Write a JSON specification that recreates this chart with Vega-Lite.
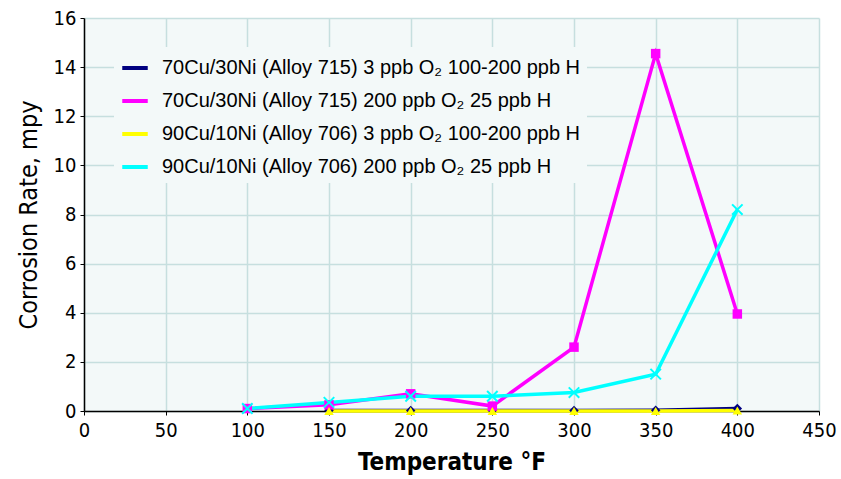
{
  "$schema": "https://vega.github.io/schema/vega-lite/v6.json",
  "width": 735,
  "height": 393,
  "autosize": {"type": "none"},
  "padding": {"left": 84, "top": 18, "right": 22, "bottom": 68},
  "background": "white",
  "config": {
    "view": {"fill": "#f3f9f9", "stroke": null},
    "font": "DejaVu Sans Condensed"
  },
  "data": {
    "values": [
      {"s": "70Cu/30Ni (Alloy 715) 3 ppb O₂ 100-200 ppb H", "t": 150, "r": 0.02},
      {"s": "70Cu/30Ni (Alloy 715) 3 ppb O₂ 100-200 ppb H", "t": 200, "r": 0.02},
      {"s": "70Cu/30Ni (Alloy 715) 3 ppb O₂ 100-200 ppb H", "t": 250, "r": 0.02},
      {"s": "70Cu/30Ni (Alloy 715) 3 ppb O₂ 100-200 ppb H", "t": 300, "r": 0.02},
      {"s": "70Cu/30Ni (Alloy 715) 3 ppb O₂ 100-200 ppb H", "t": 350, "r": 0.03},
      {"s": "70Cu/30Ni (Alloy 715) 3 ppb O₂ 100-200 ppb H", "t": 400, "r": 0.1},
      {"s": "70Cu/30Ni (Alloy 715) 200 ppb O₂ 25 ppb H", "t": 100, "r": 0.1},
      {"s": "70Cu/30Ni (Alloy 715) 200 ppb O₂ 25 ppb H", "t": 150, "r": 0.25},
      {"s": "70Cu/30Ni (Alloy 715) 200 ppb O₂ 25 ppb H", "t": 200, "r": 0.7},
      {"s": "70Cu/30Ni (Alloy 715) 200 ppb O₂ 25 ppb H", "t": 250, "r": 0.2},
      {"s": "70Cu/30Ni (Alloy 715) 200 ppb O₂ 25 ppb H", "t": 300, "r": 2.6},
      {"s": "70Cu/30Ni (Alloy 715) 200 ppb O₂ 25 ppb H", "t": 350, "r": 14.55},
      {"s": "70Cu/30Ni (Alloy 715) 200 ppb O₂ 25 ppb H", "t": 400, "r": 3.95},
      {"s": "90Cu/10Ni (Alloy 706) 3 ppb O₂ 100-200 ppb H", "t": 150, "r": 0.0},
      {"s": "90Cu/10Ni (Alloy 706) 3 ppb O₂ 100-200 ppb H", "t": 200, "r": 0.0},
      {"s": "90Cu/10Ni (Alloy 706) 3 ppb O₂ 100-200 ppb H", "t": 250, "r": 0.0},
      {"s": "90Cu/10Ni (Alloy 706) 3 ppb O₂ 100-200 ppb H", "t": 300, "r": 0.0},
      {"s": "90Cu/10Ni (Alloy 706) 3 ppb O₂ 100-200 ppb H", "t": 350, "r": 0.0},
      {"s": "90Cu/10Ni (Alloy 706) 3 ppb O₂ 100-200 ppb H", "t": 400, "r": 0.02},
      {"s": "90Cu/10Ni (Alloy 706) 200 ppb O₂ 25 ppb H", "t": 100, "r": 0.1},
      {"s": "90Cu/10Ni (Alloy 706) 200 ppb O₂ 25 ppb H", "t": 150, "r": 0.35},
      {"s": "90Cu/10Ni (Alloy 706) 200 ppb O₂ 25 ppb H", "t": 200, "r": 0.6},
      {"s": "90Cu/10Ni (Alloy 706) 200 ppb O₂ 25 ppb H", "t": 250, "r": 0.6},
      {"s": "90Cu/10Ni (Alloy 706) 200 ppb O₂ 25 ppb H", "t": 300, "r": 0.75},
      {"s": "90Cu/10Ni (Alloy 706) 200 ppb O₂ 25 ppb H", "t": 350, "r": 1.5},
      {"s": "90Cu/10Ni (Alloy 706) 200 ppb O₂ 25 ppb H", "t": 400, "r": 8.2}
    ]
  },
  "encoding": {
    "x": {
      "field": "t", "type": "quantitative",
      "scale": {"domain": [0, 450], "nice": false},
      "axis": {
        "values": [0, 50, 100, 150, 200, 250, 300, 350, 400, 450],
        "title": "Temperature °F",
        "titleFont": "DejaVu Sans Condensed", "titleFontSize": 24, "titleFontWeight": "bold", "titleColor": "black",
        "titlePadding": 10,
        "labelFont": "DejaVu Sans Condensed", "labelFontSize": 20, "labelColor": "black", "labelPadding": 5,
        "labelFlush": false,
        "domainColor": "black", "domainWidth": 1.5,
        "tickColor": "black", "tickSize": 4,
        "grid": true, "gridColor": "#c6dfdf", "gridWidth": 1.5
      }
    },
    "y": {
      "field": "r", "type": "quantitative",
      "scale": {"domain": [0, 16], "nice": false},
      "axis": {
        "values": [0, 2, 4, 6, 8, 10, 12, 14, 16],
        "title": "Corrosion Rate, mpy",
        "titleFont": "DejaVu Sans Condensed", "titleFontSize": 25, "titleFontWeight": "normal", "titleColor": "black",
        "titlePadding": 12,
        "labelFont": "DejaVu Sans Condensed", "labelFontSize": 20, "labelColor": "black", "labelPadding": 4,
        "labelFlush": false,
        "domainColor": "black", "domainWidth": 1.5,
        "tickColor": "black", "tickSize": 4,
        "grid": true, "gridColor": "#c6dfdf", "gridWidth": 1.5
      }
    },
    "color": {
      "field": "s", "type": "nominal",
      "scale": {
        "domain": [
          "70Cu/30Ni (Alloy 715) 3 ppb O₂ 100-200 ppb H",
          "70Cu/30Ni (Alloy 715) 200 ppb O₂ 25 ppb H",
          "90Cu/10Ni (Alloy 706) 3 ppb O₂ 100-200 ppb H",
          "90Cu/10Ni (Alloy 706) 200 ppb O₂ 25 ppb H"
        ],
        "range": ["#000080", "#ff00ff", "#ffff00", "#00ffff"]
      },
      "legend": {
        "title": null,
        "orient": "none", "legendX": 30, "legendY": 29,
        "symbolType": "stroke", "symbolStrokeWidth": 4, "symbolSize": 650,
        "labelFont": "Liberation Sans", "labelFontSize": 20, "labelColor": "black",
        "labelLimit": 600, "rowPadding": 8, "labelOffset": 12,
        "fillColor": "#f3f9f9", "padding": 6
      }
    }
  },
  "layer": [
    {"mark": {"type": "line", "strokeWidth": 3.5, "clip": false}},
    {
      "transform": [{"filter": "datum.s != '90Cu/10Ni (Alloy 706) 200 ppb O₂ 25 ppb H'"}],
      "mark": {"type": "point", "filled": true, "opacity": 1, "size": 90, "clip": false},
      "encoding": {
        "shape": {
          "field": "s", "type": "nominal",
          "scale": {
            "domain": [
              "70Cu/30Ni (Alloy 715) 3 ppb O₂ 100-200 ppb H",
              "70Cu/30Ni (Alloy 715) 200 ppb O₂ 25 ppb H",
              "90Cu/10Ni (Alloy 706) 3 ppb O₂ 100-200 ppb H"
            ],
            "range": ["diamond", "square", "triangle-up"]
          },
          "legend": null
        }
      }
    },
    {
      "transform": [{"filter": "datum.s == '90Cu/10Ni (Alloy 706) 200 ppb O₂ 25 ppb H'"}],
      "mark": {"type": "point", "filled": false, "opacity": 1, "size": 110, "strokeWidth": 2, "shape": "M-1,-1L1,1M1,-1L-1,1", "clip": false}
    }
  ]
}
